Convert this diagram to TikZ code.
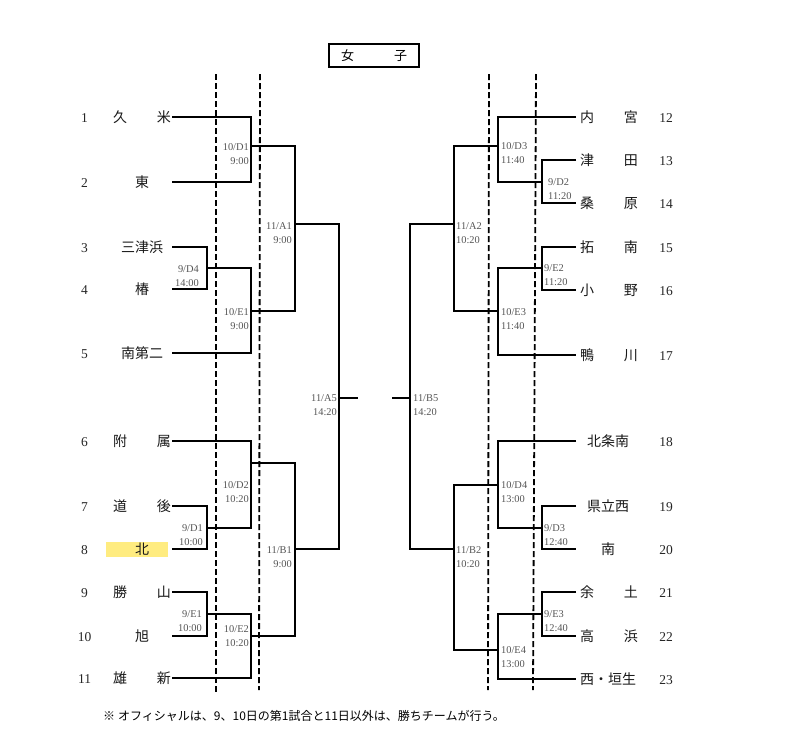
\documentclass[tikz,border=0pt]{standalone}
\usepackage{fontspec}
\setmainfont{Liberation Serif}
\newfontfamily\jp{Noto Sans CJK JP}
\definecolor{lblgray}{RGB}{85,85,85}
\definecolor{hl}{RGB}{255,236,128}
\newcommand\twolbl[6]{%
  \node[lbl,anchor=base #2] (#1a) at (#3,{#4+3.4}) {#5};
  \node[lbl,anchor=base #2] (#1b) at (#3,{#4+17.9}) {#6};}
\begin{document}
\begin{tikzpicture}[x=1pt,y=-1pt,
  br/.style={line width=2.1pt, line join=miter},
  dsh/.style={line width=1.8pt, dash pattern=on 6pt off 3pt},
  lbl/.style={font=\fontsize{10.4}{12}\selectfont, text=lblgray, inner sep=0pt},
  num/.style={font=\fontsize{13.5}{15}\selectfont, text=black!85, inner sep=0pt, anchor=base},
  team/.style={font=\jp\fontsize{14}{16}\selectfont, text=black!90, inner sep=0pt, anchor=base},
]
\path[use as bounding box, fill=white] (0,0) rectangle (792,745);

% title
\node[draw, line width=1.5pt, minimum width=90pt, minimum height=23pt, inner sep=0pt,
  font=\jp\fontsize{13}{15}\selectfont] (title) at (374,55.5) {女\hspace{40pt}子};

% highlight
\fill[hl] (106,542) rectangle (168,557);

% dashed lines
\coordinate (v1t) at (216,74); \coordinate (v1b) at (216,692);
\coordinate (v2t) at (260,74); \coordinate (v2b) at (259,690);
\coordinate (v3t) at (489,74); \coordinate (v3b) at (488,690);
\coordinate (v4t) at (536,74); \coordinate (v4b) at (533,690);
\draw[dsh] (v1t) -- (v1b);
\draw[dsh] (v2t) -- (v2b);
\draw[dsh] (v3t) -- (v3b);
\draw[dsh] (v4t) -- (v4b);

% left teams
\foreach \n/\y/\name in {1/117/{久\hspace{30pt}米},2/182/{東},3/247/{三津浜},4/289/{椿},
  5/353/{南第二},6/441/{附\hspace{30pt}属},7/506/{道\hspace{30pt}後},8/549/{北},
  9/592/{勝\hspace{30pt}山},10/636/{旭},11/678/{雄\hspace{30pt}新}}{
  \node[num] (n\n) at (84.5,{\y+5}) {\n};
  \node[team] (t\n) at (142,{\y+5}) {\name};
  \coordinate (L\n) at (172,\y);
}
% right teams
\foreach \n/\y/\name/\cx in {12/117/{内\hspace{30pt}宮}/609,13/160/{津\hspace{30pt}田}/609,
  14/203/{桑\hspace{30pt}原}/609,15/247/{拓\hspace{30pt}南}/609,16/290/{小\hspace{30pt}野}/609,
  17/355/{鴨\hspace{30pt}川}/609,18/441/{北条南}/608,19/506/{県立西}/608,20/549/{南}/608,
  21/592/{余\hspace{30pt}土}/609,22/636/{高\hspace{30pt}浜}/609,23/679/{西・垣生}/608}{
  \node[num] (n\n) at (666,{\y+5}) {\n};
  \node[team] (t\n) at (\cx,{\y+5}) {\name};
  \coordinate (R\n) at (576,\y);
}

% left junctions
\coordinate (D1) at (251,146);
\coordinate (D4) at (207,268);
\coordinate (E1) at (251,311);
\coordinate (A1) at (295,224);
\coordinate (D2) at (251,463);
\coordinate (D1r) at (207,528);
\coordinate (E1r) at (207,614);
\coordinate (E2) at (251,636);
\coordinate (B1) at (295,549);
\coordinate (A5) at (339,398);
\coordinate (A5e) at (358,398);
% right junctions
\coordinate (D3) at (498,146);
\coordinate (D2r) at (542,182);
\coordinate (E2r) at (542,268);
\coordinate (E3) at (498,311);
\coordinate (A2) at (454,224);
\coordinate (D4r) at (498,485);
\coordinate (D3r) at (542,528);
\coordinate (E3r) at (542,614);
\coordinate (E4) at (498,650);
\coordinate (B2) at (454,549);
\coordinate (B5) at (410,398);
\coordinate (B5e) at (392,398);

% left brackets
\draw[br] (L1) -| (D1) |- (L2);
\draw[br] (L3) -| (D4) |- (L4);
\draw[br] (D4) -| (E1) |- (L5);
\draw[br] (D1) -| (A1) |- (E1);
\draw[br] (L7) -| (D1r) |- (L8);
\draw[br] (L6) -| (D2) |- (D1r);
\draw[br] (L9) -| (E1r) |- (L10);
\draw[br] (E1r) -| (E2) |- (L11);
\draw[br] (D2) -| (B1) |- (E2);
\draw[br] (A1) -| (A5) |- (B1);
\draw[br] (A5) -- (A5e);
% right brackets
\draw[br] (R13) -| (D2r) |- (R14);
\draw[br] (R12) -| (D3) |- (D2r);
\draw[br] (R15) -| (E2r) |- (R16);
\draw[br] (E2r) -| (E3) |- (R17);
\draw[br] (D3) -| (A2) |- (E3);
\draw[br] (R19) -| (D3r) |- (R20);
\draw[br] (R18) -| (D4r) |- (D3r);
\draw[br] (R21) -| (E3r) |- (R22);
\draw[br] (E3r) -| (E4) |- (R23);
\draw[br] (D4r) -| (B2) |- (E4);
\draw[br] (A2) -| (B5) |- (B2);
\draw[br] (B5) -- (B5e);

% left labels
\twolbl{ld1}{east}{249}{147}{10/D1}{9:00}
\twolbl{ld4}{east}{199}{269}{9/D4}{14:00}
\twolbl{le1}{east}{249}{312}{10/E1}{9:00}
\twolbl{la1}{east}{292}{226}{11/A1}{9:00}
\twolbl{ld2}{east}{249}{485}{10/D2}{10:20}
\twolbl{ld1r}{east}{203}{528}{9/D1}{10:00}
\twolbl{le1r}{east}{202}{614}{9/E1}{10:00}
\twolbl{le2}{east}{249}{629}{10/E2}{10:20}
\twolbl{lb1}{east}{292}{550}{11/B1}{9:00}
\twolbl{la5}{east}{337}{398}{11/A5}{14:20}
% right labels
\twolbl{rb5}{west}{413}{398}{11/B5}{14:20}
\twolbl{ra2}{west}{456}{226}{11/A2}{10:20}
\twolbl{rd3}{west}{501}{146}{10/D3}{11:40}
\twolbl{rd2}{west}{548}{182}{9/D2}{11:20}
\twolbl{re2}{west}{544}{268}{9/E2}{11:20}
\twolbl{re3}{west}{501}{312}{10/E3}{11:40}
\twolbl{rd4}{west}{501}{485}{10/D4}{13:00}
\twolbl{rd3r}{west}{544}{528}{9/D3}{12:40}
\twolbl{rb2}{west}{456}{550}{11/B2}{10:20}
\twolbl{re3r}{west}{544}{614}{9/E3}{12:40}
\twolbl{re4}{west}{501}{650}{10/E4}{13:00}

% note
\node[anchor=base west, inner sep=0pt, font=\jp\fontsize{12}{14}\selectfont] (note) at (103,720.5)
  {※\hspace{3pt}オフィシャルは、9、10日の第1試合と11日以外は、勝ちチームが行う。};
\end{tikzpicture}
\end{document}
